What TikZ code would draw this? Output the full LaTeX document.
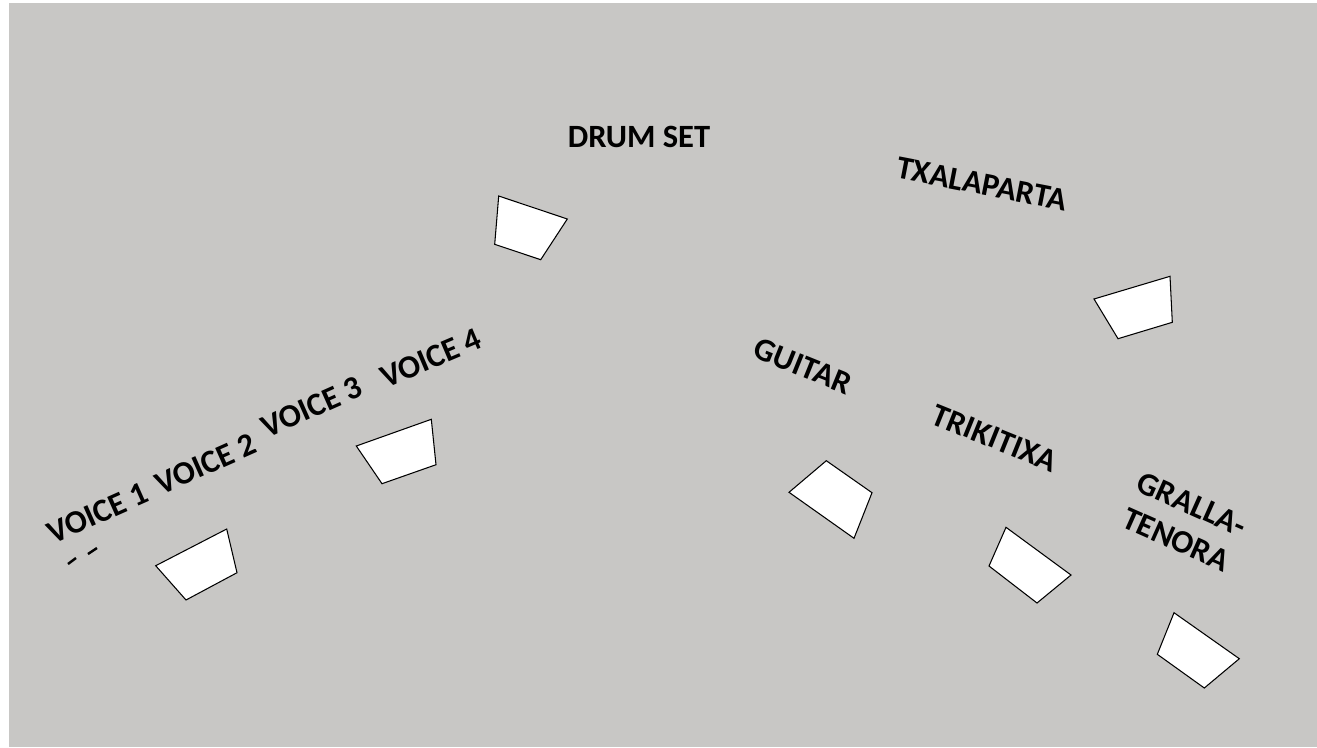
\documentclass[tikz,border=0pt]{standalone}
\usepackage{fontspec}
\setmainfont{Carlito}
\usepackage{xcolor}
\usepackage{tikz}
\usetikzlibrary{positioning}
\definecolor{stagegray}{RGB}{200,199,197}
\tikzstyle{wedge}=[draw=black, fill=white, line width=0.6pt, line join=miter]
\tikzstyle{lbl}=[font=\fontsize{18.5}{22}\selectfont\bfseries, inner sep=0pt, align=center]

\begin{document}
\begin{tikzpicture}[x=0.02cm, y=-0.02cm]

  \useasboundingbox (0,0) rectangle (1317,747);

  % ── stage floor ────────────────────────────────────────────────────────────
  \fill[stagegray] (9,3) rectangle (1317,747);

  % ── monitors, left side ────────────────────────────────────────────────────
  \draw[wedge] (155.7,565.7) -- (226.7,529) -- (237,572.7) -- (186,600) -- cycle;
  \draw[wedge] (356.3,446) -- (431.3,419.3) -- (436,464.7) -- (382,483.7) -- cycle;
  \draw[wedge] (498.7,196) -- (567.3,219) -- (540.7,259.7) -- (494.7,244.3) -- cycle;

  % ── monitors, right side ───────────────────────────────────────────────────
  \draw[wedge] (1094,299) -- (1170,276.3) -- (1172.3,322.3) -- (1118,338.7) -- cycle;
  \draw[wedge] (789,492.3) -- (826.3,460.7) -- (872,492.7) -- (854,538.3) -- cycle;
  \draw[wedge] (989,566) -- (1006,527.3) -- (1071,575) -- (1037,603) -- cycle;
  \draw[wedge] (1174,612.7) -- (1239.3,658.7) -- (1204.3,688) -- (1157.3,654.3) -- cycle;

  % ── voices ─────────────────────────────────────────────────────────────────
  \node[lbl, rotate=24] (voice1) at (98,513) {VOICE 1};
  \node[lbl, rotate=24] (voice2) at (206,464) {VOICE 2};
  \node[lbl, rotate=24] (voice3) at (312,407) {VOICE 3};
  \node[lbl, rotate=23] (voice4) at (431,358) {VOICE 4};
  \draw[line width=1.4pt] (68,564) -- (76,558);
  \draw[line width=1.4pt] (88,554) -- (97,548);

  % ── instruments ────────────────────────────────────────────────────────────
  \node[lbl] (drums) at (639,137) {DRUM SET};
  \node[lbl, rotate=-11] (txalaparta) at (982,184) {TXALAPARTA};
  \node[lbl, rotate=-22] (guitar) at (803,366) {GUITAR};
  \node[lbl, rotate=-22] (trikitixa) at (995,438) {TRIKITIXA};
  \node[lbl, rotate=-24] (gralla) at (1184,522) {GRALLA-\\TENORA};

\end{tikzpicture}
\end{document}
